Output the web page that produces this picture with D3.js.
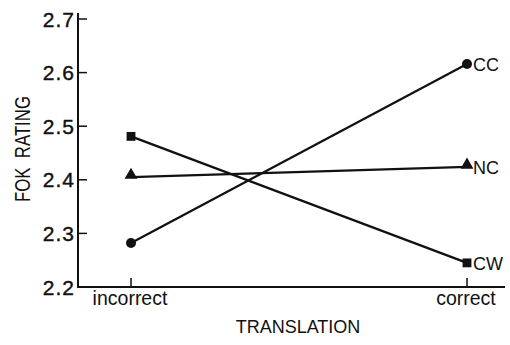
<!DOCTYPE html>
<html>
<head>
<meta charset="utf-8">
<script src="https://cdn.jsdelivr.net/npm/d3@7"></script>
<style>
  html, body { margin: 0; padding: 0; background: #fff; }
  svg { display: block; }
  text { font-family: "Liberation Sans", Arial, sans-serif; fill: #111; }
</style>
</head>
<body>
<svg id="chart" width="510" height="345"></svg>
<script>
// Mean feeling-of-knowing ratings by translation condition
const conditions = ["incorrect", "correct"];
const seriesNames = ["CC", "NC", "CW"];
const ccValues = [2.282, 2.616];
const ncValues = [2.405, 2.424];
const cwValues = [2.481, 2.245];
const yTicks = [2.2, 2.3, 2.4, 2.5, 2.6, 2.7];

const series = [
  { name: seriesNames[0], values: ccValues, marker: "circle" },
  { name: seriesNames[1], values: ncValues, marker: "triangle" },
  { name: seriesNames[2], values: cwValues, marker: "square" }
];

const svg = d3.select("#chart");
const axisX = 78, axisBottom = 287, axisTop = 13, axisRight = 505;

const y = d3.scaleLinear().domain([2.2, 2.7]).range([287, 19]);
const x = d3.scalePoint().domain(conditions).range([131, 467]);

const ink = "#111";

// Y axis: line, inward ticks, labels
svg.append("line")
  .attr("x1", axisX).attr("x2", axisX)
  .attr("y1", axisTop).attr("y2", axisBottom)
  .attr("stroke", ink).attr("stroke-width", 2);

svg.selectAll(".ytick").data(yTicks).enter().append("line")
  .attr("x1", axisX).attr("x2", axisX + 9)
  .attr("y1", d => y(d)).attr("y2", d => y(d))
  .attr("stroke", ink).attr("stroke-width", 1.5);

svg.selectAll(".ylab").data(yTicks).enter().append("text")
  .attr("x", 75).attr("y", d => y(d) + 7.5)
  .attr("text-anchor", "end")
  .attr("font-size", 21)
  .attr("letter-spacing", 1)
  .attr("stroke", ink).attr("stroke-width", 0.4)
  .text(d => d.toFixed(1));

// X axis: line, inward ticks, labels
svg.append("line")
  .attr("x1", axisX - 1).attr("x2", axisRight)
  .attr("y1", axisBottom).attr("y2", axisBottom)
  .attr("stroke", ink).attr("stroke-width", 2);

svg.selectAll(".xtick").data(conditions).enter().append("line")
  .attr("x1", d => x(d)).attr("x2", d => x(d))
  .attr("y1", axisBottom).attr("y2", axisBottom - 9)
  .attr("stroke", ink).attr("stroke-width", 1.5);

svg.selectAll(".xlab").data(conditions).enter().append("text")
  .attr("x", d => x(d) - 1).attr("y", 305)
  .attr("text-anchor", "middle")
  .attr("font-size", 19.5)
  .text(d => d);

// Axis titles
svg.append("text")
  .attr("x", 298).attr("y", 333)
  .attr("text-anchor", "middle")
  .attr("font-size", 18)
  .text("TRANSLATION");

svg.append("text")
  .attr("transform", "translate(30,149) rotate(-90) scale(0.78,1)")
  .attr("text-anchor", "middle")
  .attr("font-size", 21.5)
  .attr("xml:space", "preserve")
  .style("white-space", "pre")
  .text("FOK  RATING");

// Series lines
const line = d3.line()
  .x((d, i) => x(conditions[i]))
  .y(d => y(d));

svg.selectAll(".series").data(series).enter().append("path")
  .attr("d", d => line(d.values))
  .attr("fill", "none")
  .attr("stroke", ink)
  .attr("stroke-width", 2.2);

// Markers
const symbolOf = {
  circle: d3.symbol().type(d3.symbolCircle).size(78),
  triangle: d3.symbol().type(d3.symbolTriangle).size(72),
  square: d3.symbol().type(d3.symbolSquare).size(78)
};

series.forEach(s => {
  svg.selectAll(null).data(s.values).enter().append("path")
    .attr("d", symbolOf[s.marker]())
    .attr("transform", (d, i) => {
      const dy = s.marker === "triangle" ? -2 : 0;
      return `translate(${x(conditions[i])},${y(d) + dy})`;
    })
    .attr("fill", ink);
});

// Series labels at right end
svg.selectAll(".slab").data(series).enter().append("text")
  .attr("x", x("correct") + 6)
  .attr("y", d => y(d.values[1]) + 7)
  .attr("font-size", 18)
  .text(d => d.name);
</script>
</body>
</html>
